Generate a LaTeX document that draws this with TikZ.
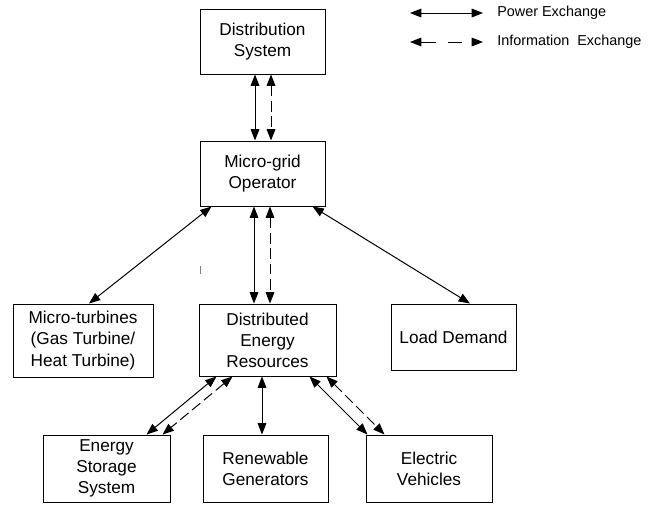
\documentclass[tikz,border=0pt]{standalone}
\usepackage{fontspec}
\setmainfont{Liberation Sans}
\usetikzlibrary{arrows.meta}
\usetikzlibrary{calc}
\tikzset{> = {Triangle[length=8.5pt,width=6.5pt]}, color=black}
\tikzset{
	blk/.style={draw, line width=0.75pt, align=center, inner sep=0pt,
		font=\fontsize{12.9}{15.8}\selectfont},
	pow/.style={<->, line width=0.75pt},
	info/.style={<->, line width=0.75pt, dash pattern=on 8pt off 3.5pt},
	legtext/.style={anchor=west, inner sep=0pt, font=\fontsize{10.8}{13}\selectfont}
}

\begin{document}
\begin{tikzpicture}[x=0.75pt,y=-0.75pt]
		\useasboundingbox (0,0) rectangle (667,508);
		\node[blk, minimum width=93.75pt, minimum height=48.75pt] (dist) at (262.5,41.5) {Distribution\\System};
		\node[blk, minimum width=93.75pt, minimum height=48.75pt] (mgo) at (262.5,173.5) {Micro-grid\\Operator};
		\node[blk, minimum width=105pt, minimum height=54.75pt] (mturb) at (83,340.5) {Micro-turbines\\(Gas Turbine/\\Heat Turbine)};
		\node[blk, minimum width=102.75pt, minimum height=54pt] (der) at (267.5,340) {Distributed\\Energy\\Resources};
		\node[blk, minimum width=93.75pt, minimum height=49.5pt] (load) at (453.5,337) {Load Demand};
		\node[blk, minimum width=95.25pt, minimum height=50.25pt] (ess) at (106.5,468.5) {Energy\\Storage\\System};
		\node[blk, minimum width=93.75pt, minimum height=50.25pt] (ren) at (265.5,468.5) {Renewable\\Generators};
		\node[blk, minimum width=94.5pt, minimum height=50.25pt] (ev) at (429,468.5) {Electric\\Vehicles};

		\coordinate (a1) at ($(dist.south)+(-7.5,0)$);
		\coordinate (a2) at ($(dist.south)+(8.5,0)$);
		\draw[pow] (a1) -- (a1 |- mgo.north);
		\draw[info] (a2) -- (a2 |- mgo.north);

		\coordinate (b1) at ($(mgo.south)+(-8.5,0)$);
		\coordinate (b2) at ($(mgo.south)+(7.5,0)$);
		\draw[pow] (b1) -- (b1 |- der.north);
		\draw[info] (b2) -- (b2 |- der.north);

		\draw[pow] ($(mgo.south west)+(12,0)$) -- ($(mturb.north)+(6,0)$);
		\draw[pow] ($(mgo.south east)+(-13,0)$) -- ($(load.north)+(16.5,0)$);
		\draw[line width=0.5pt, gray] (200,266) -- (200,274);

		\draw[pow] ($(der.south west)+(18,0)$) -- ($(ess.north)+(40,0)$);
		\draw[info] ($(der.south west)+(34,0)$) -- ($(ess.north)+(56,0)$);
		\coordinate (c1) at ($(der.south)+(-5.5,0)$);
		\draw[pow] (c1) -- (c1 |- ren.north);
		\draw[pow] ($(der.south east)+(-27,0)$) -- ($(ev.north west)+(2,0)$);
		\draw[info] ($(der.south east)+(-10,0)$) -- ($(ev.north west)+(19,0)$);

		\coordinate (lp1) at (410,13);
		\coordinate (lp2) at (483,13);
		\coordinate (li1) at (410,42);
		\coordinate (li2) at (483,42);
		\draw[pow] (lp1) -- (lp2);
		\draw[<->, line width=0.75pt, dash pattern=on 11pt off 9pt] (li1) -- (li2);
		\node[legtext] (lpow) at (497,13) {Power Exchange};
		\node[legtext] (linfo) at (497,42) {Information\ \ Exchange};
		\end{tikzpicture}
\end{document}
